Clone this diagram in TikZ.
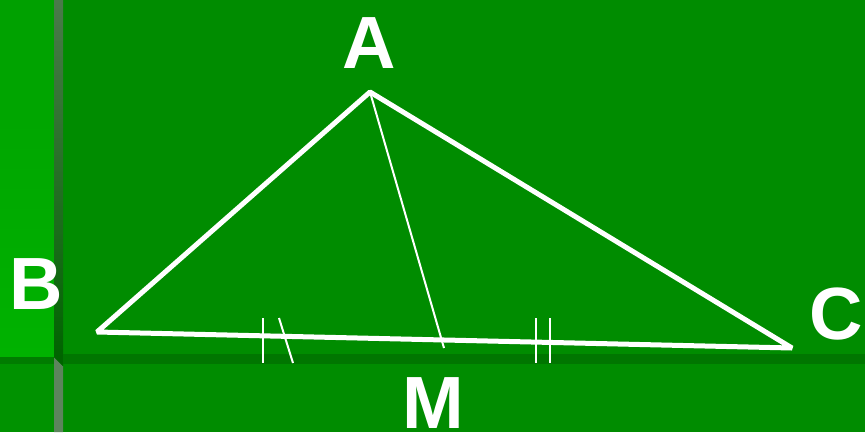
\documentclass[tikz,border=0pt]{standalone}
\usepackage{fontspec}
\setmainfont{Liberation Sans}
\begin{document}
\begin{tikzpicture}[x=1pt,y=-1pt]
\definecolor{maingreen}{RGB}{0,140,0}
\definecolor{striptop}{RGB}{0,160,0}
\definecolor{stripbot}{RGB}{0,178,0}
\definecolor{bartop}{RGB}{74,122,74}
\definecolor{barbot}{RGB}{0,100,0}
\definecolor{bargray}{RGB}{92,132,92}
\definecolor{bandgreen}{RGB}{0,118,0}
\definecolor{lowgreen}{RGB}{0,146,0}
\tikzset{
  lbl/.style={text=white,font=\fontsize{74}{74}\selectfont\bfseries,anchor=base,inner sep=0pt,text depth=0pt},
  side/.style={white,line width=5pt,line join=bevel},
  median/.style={white,line width=2pt},
  tick/.style={white,line width=2pt}
}
\useasboundingbox (0,0) rectangle (865,432);
% background
\fill[maingreen] (0,0) rectangle (865,432);
\shade[top color=striptop,bottom color=stripbot] (0,0) rectangle (54,357);
\shade[top color=bartop,bottom color=barbot] (54,0) rectangle (63,357);
\fill[lowgreen] (0,357) rectangle (54,432);
\fill[bargray] (54,357) -- (63,366) -- (63,432) -- (54,432) -- cycle;
\fill[barbot] (54,357) -- (63,357) -- (63,366) -- cycle;
\fill[bandgreen] (63,354) rectangle (865,364);
\fill[bandgreen!80!lowgreen] (0,357) rectangle (54,364);
% triangle
\coordinate (A) at (370,92);
\coordinate (B) at (97,332);
\coordinate (C) at (792,348);
\coordinate (M) at (444,348);
\draw[side] (B) -- (A) -- (C) -- cycle;
\draw[median] (A) -- (M);
% ticks
\coordinate (t1a) at (263,318); \coordinate (t1b) at (263,363);
\coordinate (t2a) at (279,318); \coordinate (t2b) at (293,363);
\coordinate (t3a) at (536,318); \coordinate (t3b) at (536,363);
\coordinate (t4a) at (550,318); \coordinate (t4b) at (550,363);
\draw[tick] (t1a) -- (t1b);
\draw[tick] (t2a) -- (t2b);
\draw[tick] (t3a) -- (t3b);
\draw[tick] (t4a) -- (t4b);
% labels
\node[lbl] (lA) at (369,68) {A};
\node[lbl] (lB) at (36,309) {B};
\node[lbl] (lC) at (836,339) {C};
\node[lbl] (lM) at (433,428) {M};
\end{tikzpicture}
\end{document}
